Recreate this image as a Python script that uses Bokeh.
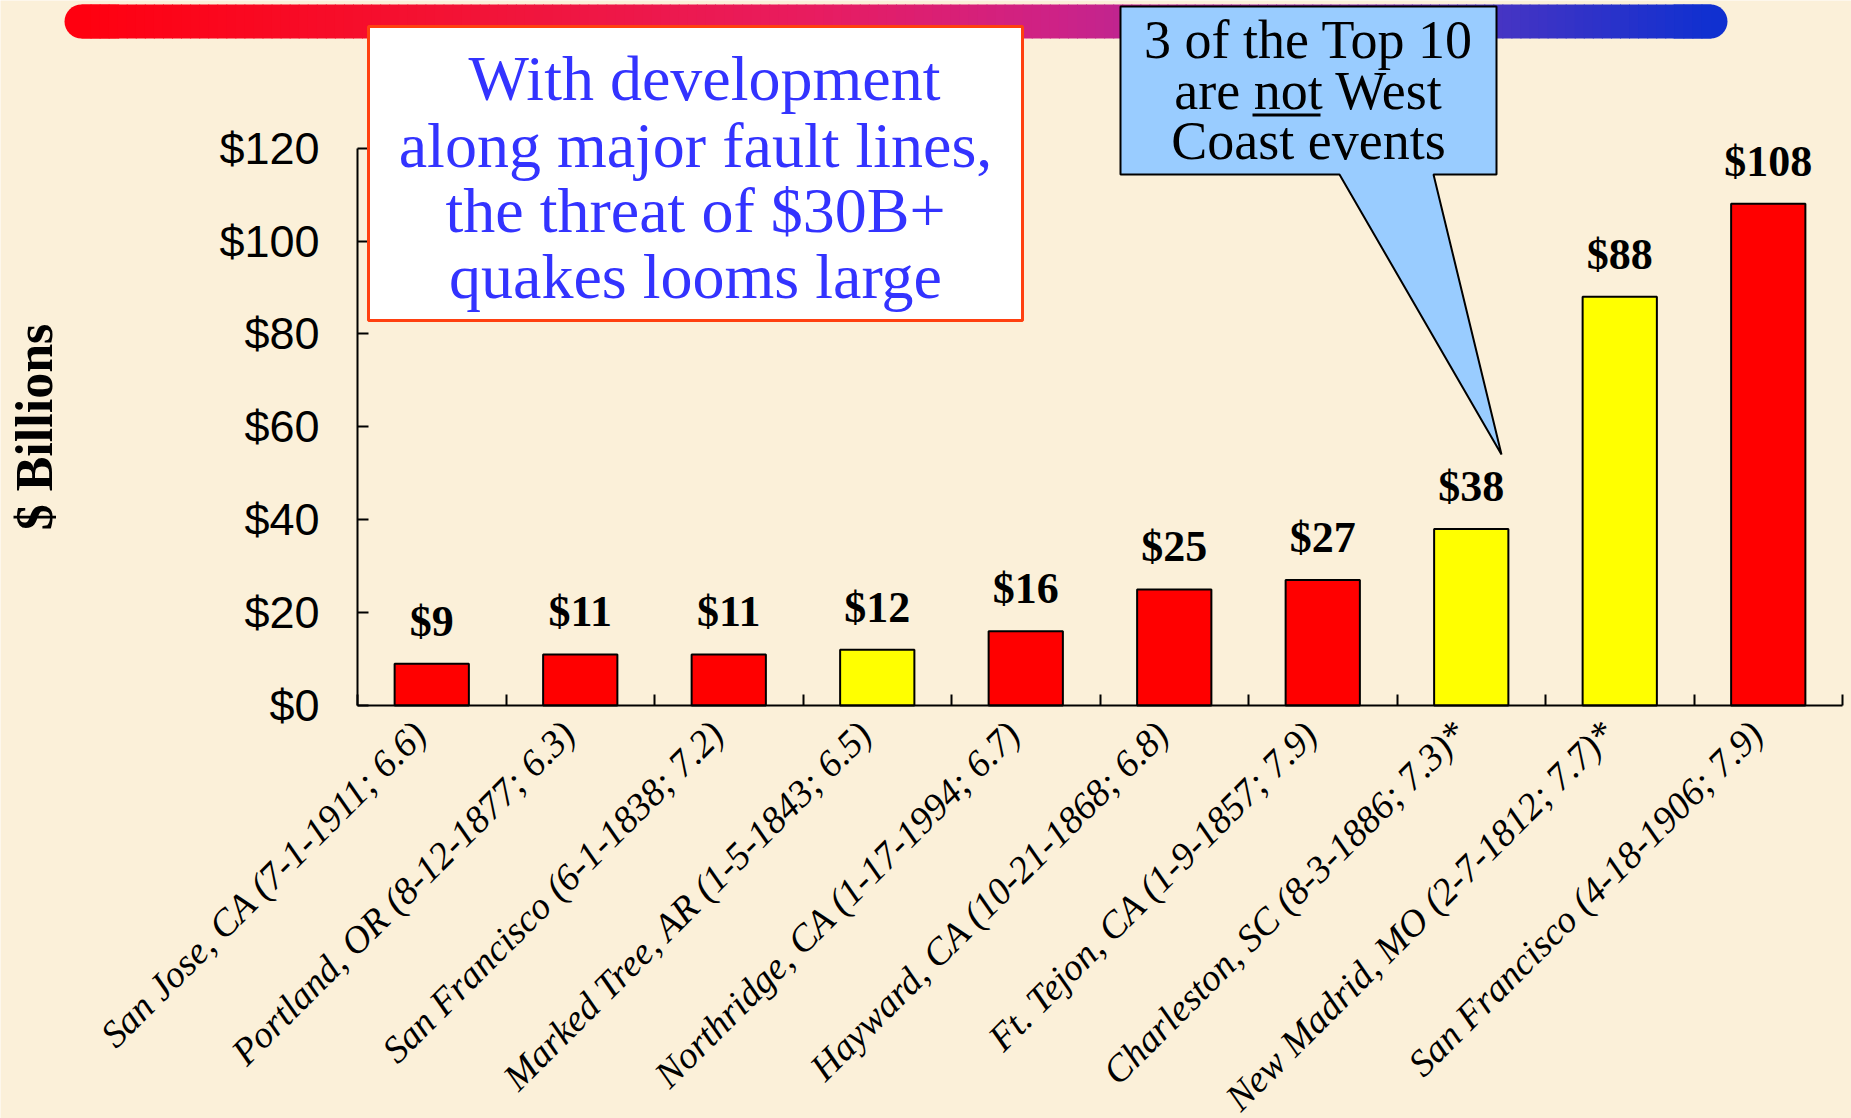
import numpy as np
from bokeh.plotting import figure
from bokeh.models import (Range1d, FixedTicker, NumeralTickFormatter, BoxAnnotation,
                          PolyAnnotation, Label, LabelSet, ColumnDataSource,
                          CustomJSTickFormatter)
from bokeh.core.properties import value
from bokeh.embed import file_html
from bokeh.resources import INLINE

# ---------------- data ----------------
categories = [
    "San Jose, CA (7-1-1911; 6.6)",
    "Portland, OR (8-12-1877; 6.3)",
    "San Francisco (6-1-1838; 7.2)",
    "Marked Tree, AR (1-5-1843; 6.5)",
    "Northridge, CA (1-17-1994; 6.7)",
    "Hayward, CA (10-21-1868; 6.8)",
    "Ft. Tejon, CA (1-9-1857; 7.9)",
    "Charleston, SC (8-3-1886; 7.3)*",
    "New Madrid, MO (2-7-1812; 7.7)*",
    "San Francisco (4-18-1906; 7.9)",
]
values = [9, 11, 11, 12, 16, 25, 27, 38, 88, 108]
west_coast = [True, True, True, False, True, True, True, False, False, True]
y_ticks = [0, 20, 40, 60, 80, 100, 120]
value_labels = ["$" + str(v) for v in values]

box_lines = ["With development", "along major fault lines,",
             "the threat of $30B+", "quakes looms large"]
callout_lines = ["3 of the Top 10", "are not West", "Coast events"]

# ---------------- layout (canvas pixels) ----------------
W, H = 1851, 1118
n = len(categories)
YMAX = 120
X0, X1 = 357, 1842      # pixel x of the x-axis ends
Y0, YT = 705, 147.6     # pixel y of $0 and $120
cw = (X1 - X0) / n
ppu = (Y0 - YT) / YMAX


def dx(X):  # pixel x -> data x
    return (X - X0) / cw


def dy(Y):  # pixel y -> data y
    return (Y0 - Y) / ppu


BG = "#FBF0D9"

p = figure(width=W, height=H, title=None,
           x_range=Range1d(dx(0), dx(W)), y_range=Range1d(dy(H), dy(0)),
           output_backend="svg", toolbar_location=None,
           min_border_left=0, min_border_right=0, min_border_top=0, min_border_bottom=0)
p.background_fill_color = BG
p.border_fill_color = BG
p.outline_line_color = None
p.grid.visible = False

centers = [i + 0.5 for i in range(n)]
colors = ["#FF0000" if w else "#FFFF00" for w in west_coast]
src = ColumnDataSource(dict(x=centers, top=values, color=colors, label=value_labels))

p.vbar(x="x", top="top", width=0.5, source=src, fill_color="color",
       line_color="black", line_width=2)

# x axis (drawn at y = 0)
LABEL_SHIFT = 0.08
xa = p.xaxis[0]
xa.fixed_location = 0
xa.bounds = (0, n)
xa.ticker = FixedTicker(ticks=[c - LABEL_SHIFT for c in centers],
                        minor_ticks=list(range(0, n + 1)))
xa.formatter = CustomJSTickFormatter(args=dict(labels=categories),
                                     code="return labels[Math.floor(tick)]")
xa.major_label_orientation = np.pi / 4
xa.major_tick_in = 0
xa.major_tick_out = 0
xa.minor_tick_in = 11
xa.minor_tick_out = 0
xa.minor_tick_line_color = "black"
xa.minor_tick_line_width = 2
xa.axis_line_width = 2
xa.axis_line_color = "black"
xa.major_label_text_font = "Liberation Serif"
xa.major_label_text_font_style = "italic"
xa.major_label_text_font_size = "38px"
xa.major_label_text_color = "black"
xa.major_label_standoff = 22

# y axis (drawn at x = 0)
ya = p.yaxis[0]
ya.fixed_location = 0
ya.bounds = (0, YMAX)
ya.ticker = FixedTicker(ticks=y_ticks, minor_ticks=[])
ya.formatter = NumeralTickFormatter(format="$0")
ya.major_tick_in = 11
ya.major_tick_out = 0
ya.minor_tick_in = 0
ya.minor_tick_out = 0
ya.major_tick_line_width = 2
ya.major_tick_line_color = "black"
ya.axis_line_width = 2
ya.axis_line_color = "black"
ya.major_label_text_font = "Liberation Sans"
ya.major_label_text_font_size = "45px"
ya.major_label_text_color = "black"
ya.major_label_standoff = 38
ya.axis_label = "$ Billions"
ya.axis_label_text_font = "Liberation Serif"
ya.axis_label_text_font_style = "bold"
ya.axis_label_text_font_size = "52px"
ya.axis_label_text_color = "black"
ya.axis_label_standoff = 153

# value labels
p.add_layout(LabelSet(x="x", y="top", text="label", source=src, text_align="center",
                      text_baseline="alphabetic", y_offset=28,
                      text_font=value("Liberation Serif"), text_font_style="bold",
                      text_font_size="44px", text_color="black"))

# ---------------- gradient title bar ----------------
stops = [(0.0, (255, 0, 16)), (0.25, (242, 20, 56)), (0.45, (232, 28, 96)),
         (0.60, (205, 34, 135)), (0.72, (165, 42, 160)), (0.80, (130, 45, 175)),
         (0.87, (70, 52, 195)), (1.0, (16, 48, 208))]


def grad(t):
    for (t0, c0), (t1, c1) in zip(stops[:-1], stops[1:]):
        if t <= t1:
            f = (t - t0) / (t1 - t0)
            return "#%02x%02x%02x" % tuple(int(round(a + (b - a) * f)) for a, b in zip(c0, c1))
    return "#%02x%02x%02x" % stops[-1][1]


GX0, GX1, GY0, GY1 = 64, 1727, 4, 38
R = (GY1 - GY0) // 2
p.add_layout(BoxAnnotation(left=dx(GX0), right=dx(GX0 + 4 * R), top=dy(GY0), bottom=dy(GY1),
                           fill_color=grad(0), fill_alpha=1, line_color=None,
                           border_radius=int(R)))
p.add_layout(BoxAnnotation(left=dx(GX1 - 4 * R), right=dx(GX1), top=dy(GY0), bottom=dy(GY1),
                           fill_color=grad(1), fill_alpha=1, line_color=None,
                           border_radius=int(R)))
NS = 180
sx0, sx1 = GX0 + R, GX1 - R
sw = (sx1 - sx0) / NS
for i in range(NS):
    a = sx0 + i * sw
    p.add_layout(BoxAnnotation(left=dx(a), right=dx(a + sw + 1), top=dy(GY0), bottom=dy(GY1),
                               fill_color=grad((i + 0.5) / NS), fill_alpha=1,
                               line_color=None))

# ---------------- white message box ----------------
p.add_layout(BoxAnnotation(left=dx(368), right=dx(1022), top=dy(26), bottom=dy(320),
                           fill_color="white", fill_alpha=1, line_color="#FF4010",
                           line_alpha=1, line_width=3))
for txt, base, xc in zip(box_lines, [78, 145, 210, 276], [704, 695, 695, 695]):
    p.add_layout(Label(x=dx(xc), y=dy(base), text=txt, text_align="center",
                       text_baseline="alphabetic", text_font="Liberation Serif",
                       text_font_size="64px", text_color="#3333FF"))

# ---------------- callout ----------------
cx = [1120, 1496, 1496, 1433, 1501, 1339, 1120]
cy = [6, 6, 174, 174, 454, 174, 174]
p.add_layout(PolyAnnotation(xs=[dx(v) for v in cx], ys=[dy(v) for v in cy],
                            fill_color="#99CCFF", fill_alpha=1, line_color="black",
                            line_alpha=1, line_width=2))
for txt, base in zip(callout_lines, [39, 90, 140]):
    p.add_layout(Label(x=dx(1308), y=dy(base), text=txt, text_align="center",
                       text_baseline="alphabetic", text_font="Liberation Serif",
                       text_font_size="54px", text_color="black"))
p.add_layout(BoxAnnotation(left=dx(1252), right=dx(1320), top=dy(113), bottom=dy(116),
                           fill_color="black", fill_alpha=1, line_color=None))

open("out.html", "w").write(file_html(p, INLINE))
